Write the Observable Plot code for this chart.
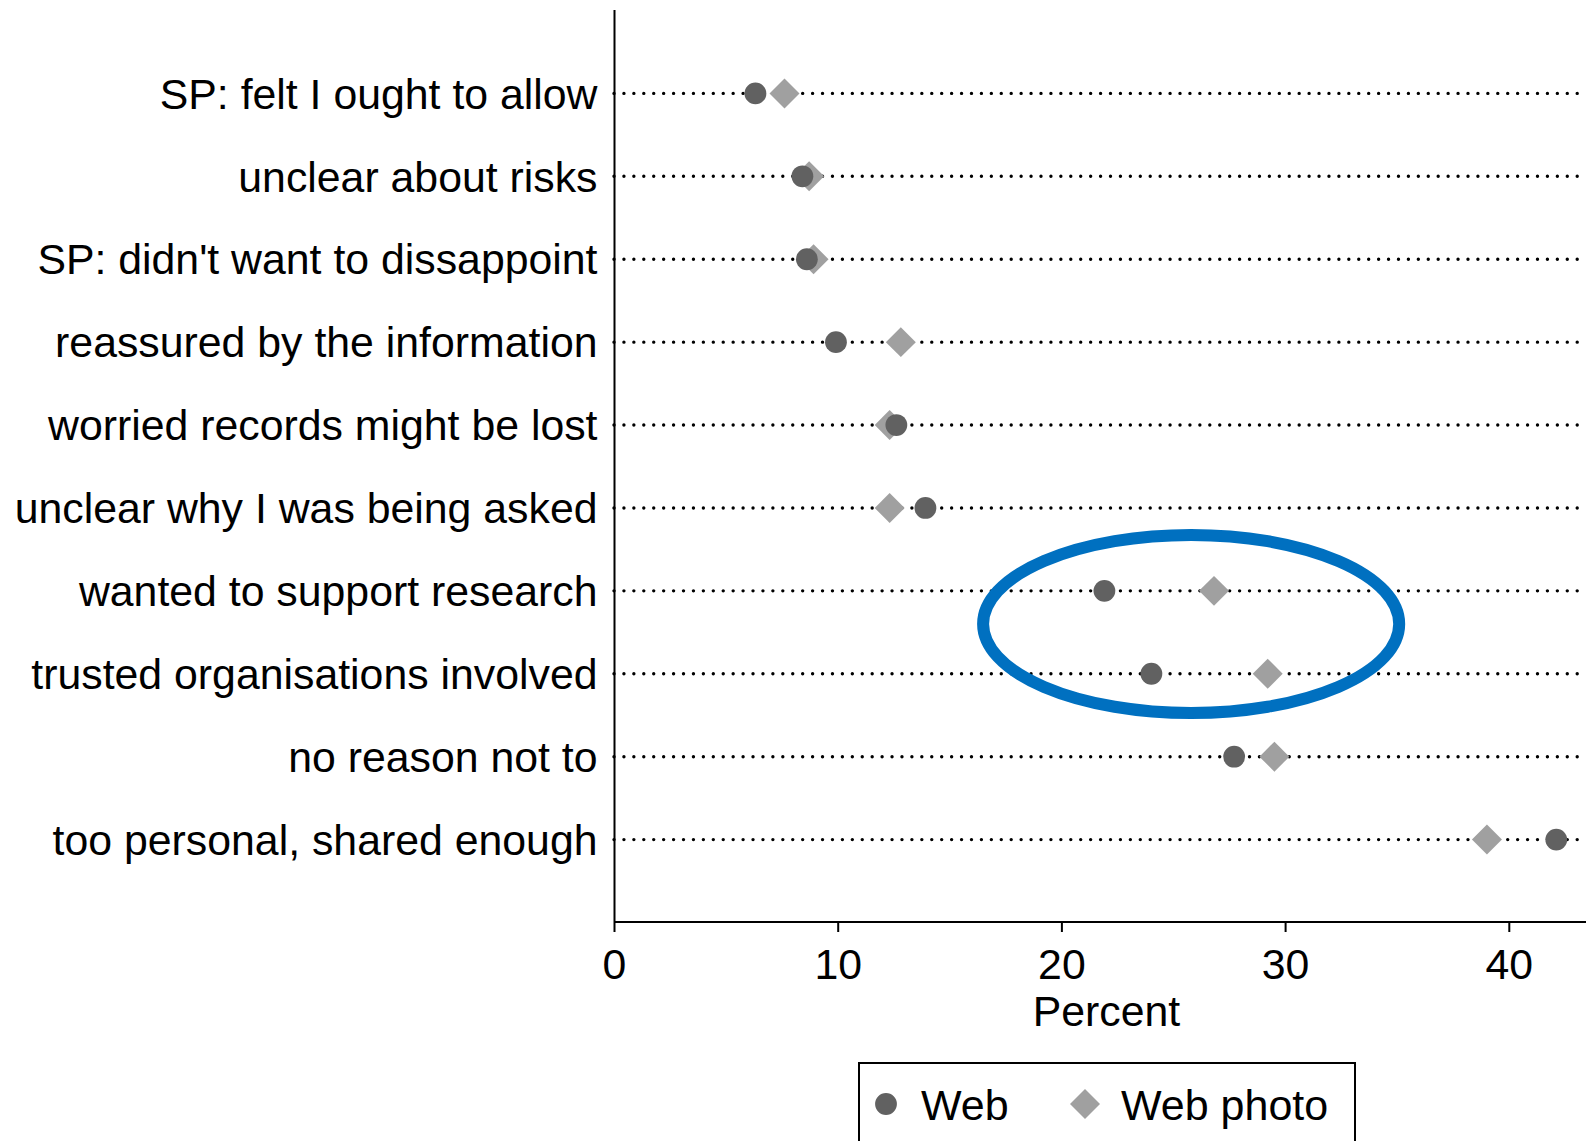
<!DOCTYPE html>
<html>
<head>
<meta charset="utf-8">
<script src="https://cdn.jsdelivr.net/npm/d3@7"></script>
<script src="https://cdn.jsdelivr.net/npm/@observablehq/plot@0.6"></script>
<style>
  html, body { margin: 0; padding: 0; background: #fff; overflow: hidden; }
  body { font-family: "Liberation Sans", Arial, Helvetica, sans-serif; }
  #legend { position: absolute; left: 858px; top: 1062px; width: 494px; height: 110px; border: 2px solid #000; box-sizing: content-box; }
</style>
</head>
<body>
<div id="chart"></div>
<div id="legend"></div>
<script>
// ---- data ----
const categories = [
  "SP: felt I ought to allow",
  "unclear about risks",
  "SP: didn't want to dissappoint",
  "reassured by the information",
  "worried records might be lost",
  "unclear why I was being asked",
  "wanted to support research",
  "trusted organisations involved",
  "no reason not to",
  "too personal, shared enough"
];
const webValues      = [6.3, 8.4, 8.6, 9.9, 12.6, 13.9, 21.9, 24.0, 27.7, 42.1];
const webPhotoValues = [7.6, 8.7, 8.9, 12.8, 12.3, 12.3, 26.8, 29.2, 29.5, 39.0];
const seriesNames = ["Web", "Web photo"];
const xTicks = [0, 10, 20, 30, 40];
const xLabel = "Percent";
// highlighted rows (annotation ellipse)
const highlightRows = ["wanted to support research", "trusted organisations involved"];
const highlightX = [16.5, 35.1]; // horizontal extent of the ellipse in percent

// ---- build table ----
const rows = [];
categories.forEach((c, i) => {
  rows.push({category: c, series: seriesNames[1], value: webPhotoValues[i]});
});
categories.forEach((c, i) => {
  rows.push({category: c, series: seriesNames[0], value: webValues[i]});
});

const FONT = '"Liberation Sans", Arial, Helvetica, sans-serif';
const FS = 42.8;
const W = 1586, H = 1045;
const mTop = 10, mLeft = 614, mBottom = H - 922, mRight = 0;
const xMax = (W - mLeft) / 22.37;

const ellipseMark = (index, scales, values, dim) => {
  const y0 = scales.y(highlightRows[0]), y1 = scales.y(highlightRows[1]);
  const step = y1 - y0;
  const x0 = scales.x(highlightX[0]), x1 = scales.x(highlightX[1]);
  return d3.create("svg:ellipse")
    .attr("cx", (x0 + x1) / 2)
    .attr("cy", y0 + 0.405 * step)
    .attr("rx", (x1 - x0) / 2)
    .attr("ry", 1.074 * step)
    .attr("fill", "none")
    .attr("stroke", "#0070c0")
    .attr("stroke-width", 12)
    .node();
};

const bottomLine = (index, scales, values, dim) => {
  const y = dim.height - dim.marginBottom;
  return d3.create("svg:line")
    .attr("x1", scales.x(0)).attr("x2", dim.width - dim.marginRight)
    .attr("y1", y).attr("y2", y)
    .attr("stroke", "#000").attr("stroke-width", 2)
    .node();
};

const chart = Plot.plot({
  width: W,
  height: H,
  marginTop: mTop,
  marginLeft: mLeft,
  marginRight: mRight,
  marginBottom: mBottom,
  style: {fontFamily: FONT, fontSize: FS + "px", color: "#000", background: "#fff"},
  x: {domain: [0, xMax], ticks: xTicks},
  y: {domain: categories, type: "point", padding: 1, round: false},
  marks: [
    Plot.ruleY(categories, {
      stroke: "#000", strokeWidth: 3.4, strokeDasharray: "0,9.93", strokeLinecap: "round"
    }),
    Plot.ruleX([0], {stroke: "#000", strokeWidth: 2}),
    bottomLine,
    Plot.axisX({
      ticks: xTicks, tickSize: 10, tickPadding: 16, strokeWidth: 2,
      tickFormat: d => String(d), label: null, fontSize: FS
    }),
    Plot.axisY({
      tickSize: 0, tickPadding: 17, label: null, fontSize: FS, dy: 1.5
    }),
    Plot.text([xLabel], {
      frameAnchor: "bottom", dx: 6, dy: 103, fontSize: FS, fill: "#000"
    }),
    Plot.dot(rows.filter(d => d.series === seriesNames[1]), {
      x: "value", y: "category", symbol: "diamond2", r: 13.5, fill: "#a0a0a0", stroke: "none"
    }),
    Plot.dot(rows.filter(d => d.series === seriesNames[0]), {
      x: "value", y: "category", symbol: "circle", r: 10.9, fill: "#616161", stroke: "none"
    }),
    ellipseMark
  ]
});
document.getElementById("chart").appendChild(chart);

// ---- legend ----
const lg = d3.select("#legend").append("svg")
  .attr("width", 494).attr("height", 110)
  .style("display", "block")
  .style("font-family", FONT);
const items = [
  {name: seriesNames[0], sym: d3.symbolCircle, size: Math.PI * 10.9 * 10.9, fill: "#616161", sx: 26, tx: 61},
  {name: seriesNames[1], sym: d3.symbolDiamond2, size: Math.PI * 13.5 * 13.5, fill: "#a0a0a0", sx: 225, tx: 261}
];
for (const it of items) {
  lg.append("path")
    .attr("d", d3.symbol(it.sym, it.size)())
    .attr("transform", `translate(${it.sx},${40})`)
    .attr("fill", it.fill);
  lg.append("text")
    .attr("x", it.tx).attr("y", 56)
    .attr("font-size", 43)
    .attr("fill", "#000")
    .text(it.name);
}
</script>
</body>
</html>
